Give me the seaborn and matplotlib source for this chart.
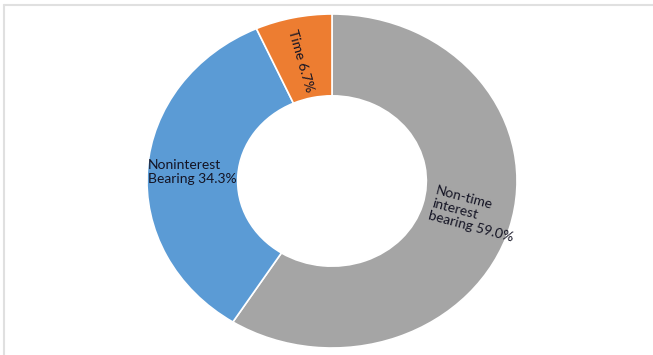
import matplotlib
matplotlib.use("Agg")
import matplotlib.pyplot as plt
import seaborn as sns

sns.set_theme(style="white")
plt.rcParams['font.family'] = ['Lato', 'DejaVu Sans']

categories = ["Non-time\ninterest\nbearing", "Noninterest\nBearing", "Time"]
values = [59.0, 34.3, 6.7]
colors = ["#A5A5A5", "#5B9BD5", "#ED7D31"]

fig = plt.figure(figsize=(6.53, 3.55), dpi=100)
fig.patch.set_facecolor("white")
cx, cy, rx, ry = 332, 181, 185, 167
W, H = 653, 355
ax = fig.add_axes([(cx - rx) / W, (H - cy - ry) / H, 2 * rx / W, 2 * ry / H])
wedges, _ = ax.pie(values, colors=colors, startangle=90, counterclock=False,
                   wedgeprops=dict(width=0.49, edgecolor="white", linewidth=1.2))
ax.set_aspect("auto")
ax.set_xlim(-1, 1)
ax.set_ylim(-1, 1)
ax.axis("off")

tc = "#141424"
labels = [f"{c} {v:.1f}%" for c, v in zip(categories, values)]
ax.text(0.77, -0.2, labels[0], ha="center", va="center", rotation=-15,
        fontsize=10, color=tc, multialignment="left", rotation_mode="anchor", linespacing=1.1)
ax.text(-0.995, 0.054, labels[1], ha="left", va="center", fontsize=10, color=tc,
        multialignment="left", linespacing=1.15)
ax.text(-0.17, 0.72, labels[2], ha="center", va="center", rotation=-74,
        fontsize=10, color=tc, rotation_mode="anchor")

# faint frame lines (top and left)
fig.add_artist(plt.Line2D([4 / W, 1], [1 - 5 / H, 1 - 5 / H], transform=fig.transFigure,
                          color="#e0e0e0", linewidth=1.5))
fig.add_artist(plt.Line2D([4 / W, 4 / W], [0, 1 - 5 / H], transform=fig.transFigure,
                          color="#e0e0e0", linewidth=1.5))

fig.savefig("out.png", dpi=100, facecolor="white")
